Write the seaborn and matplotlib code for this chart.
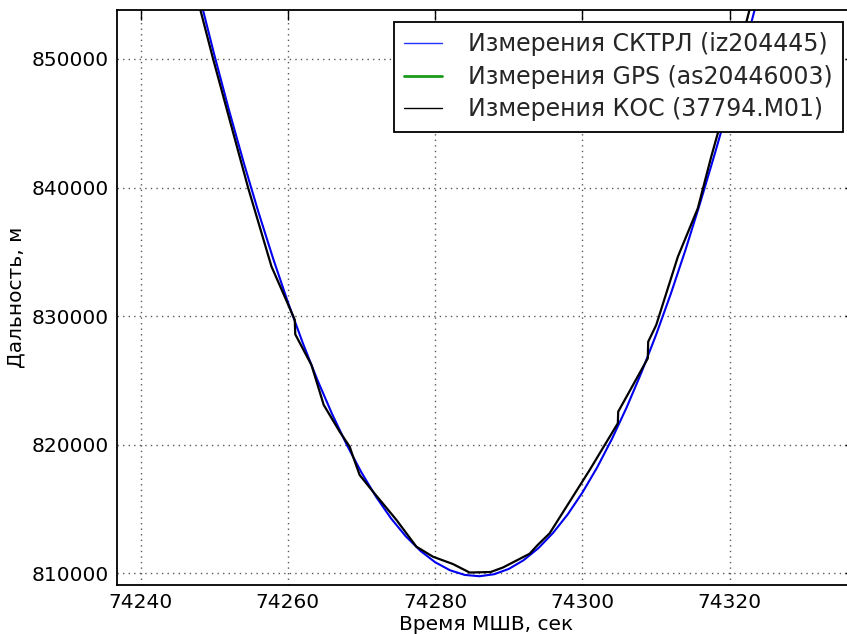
import matplotlib
matplotlib.use("Agg")
import matplotlib.pyplot as plt
from matplotlib.lines import Line2D
import seaborn as sns
import pandas as pd

# --- data ---
sktrl_time = [74248, 74250, 74252, 74254, 74256, 74258, 74260, 74262, 74264, 74266,
              74268, 74270, 74272, 74274, 74276, 74278, 74280, 74282, 74284, 74286,
              74288, 74290, 74292, 74294, 74296, 74298, 74300, 74302, 74304, 74306,
              74308, 74310, 74312, 74314, 74316, 74318, 74320, 74322, 74324]
sktrl_range = [854886, 850349, 846035, 841950, 838096, 834475, 831092, 827950, 825050, 822395,
               819988, 817832, 815927, 814276, 812881, 811743, 810861, 810239, 809875, 809771,
               809927, 810342, 811016, 811949, 813139, 814586, 816288, 818244, 820450, 822907,
               825610, 828559, 831751, 835180, 838848, 842700, 846700, 850800, 855200]

gps_time = []
gps_range = []

kos_time = [74246.9, 74249.85, 74254.60, 74257.78, 74259.35, 74260.71, 74260.94, 74261.00,
            74263.20, 74264.87, 74267.04, 74268.39, 74268.85, 74269.75, 74271.56, 74274.74,
            74277.45, 74279.70, 74282.41, 74284.67, 74287.53, 74289.20, 74292.82, 74293.91,
            74295.54, 74300.97, 74304.80, 74304.85, 74308.87, 74308.92, 74310.01, 74312.95,
            74315.66, 74317.48, 74318.37, 74322.67, 74323.9]
kos_range = [856500, 850000, 839990, 833850, 831800, 830010, 829700, 828590,
             826200, 823090, 821010, 819850, 819070, 817640, 816350, 814150,
             812070, 811290, 810720, 810060, 810100, 810450, 811520, 812200,
             813110, 818030, 821670, 822570, 826720, 828010, 829310, 834620,
             838390, 842400, 844220, 853810, 856500]

labels = ["Измерения СКТРЛ (iz204445)", "Измерения GPS (as20446003)", "Измерения КОС (37794.M01)"]
x_ticks = [74240, 74260, 74280, 74300, 74320]
y_ticks = [810000, 820000, 830000, 840000, 850000]

sns.set_theme(style="white")
plt.rcParams["font.family"] = ["DejaVu Sans"]

fig = plt.figure(figsize=(8.47, 6.34), dpi=100)
ax = fig.add_axes([117 / 847, 1 - 585 / 634, (855 - 117) / 847, (585 - 10) / 634])

df_sktrl = pd.DataFrame({"t": sktrl_time, "r": sktrl_range})
df_kos = pd.DataFrame({"t": kos_time, "r": kos_range})

sns.lineplot(data=df_sktrl, x="t", y="r", ax=ax, color="#0000ee", linewidth=1.5,
             sort=False, estimator=None, legend=False)
sns.lineplot(data=df_kos, x="t", y="r", ax=ax, color="black", linewidth=1.6,
             sort=False, estimator=None, legend=False)

ax.set_xlim(74236.8, 74337.0)
ax.set_ylim(809090, 853810)
ax.set_xticks(x_ticks)
ax.set_yticks(y_ticks)
ax.set_xticklabels([str(v) for v in x_ticks])
ax.set_yticklabels([str(v) for v in y_ticks])

ax.grid(True, color="0.35", linestyle=(0, (1, 3)), linewidth=1.0)
ax.tick_params(direction="in", length=7, width=1, top=True, right=True,
               labelsize=14.5, pad=6, colors="black")
for s in ax.spines.values():
    s.set_color("black")
    s.set_linewidth(1.3)

ax.set_xlabel("Время МШВ, сек", fontsize=14.5, labelpad=2, color="black")
ax.set_ylabel("Дальность, м", fontsize=14.5, labelpad=4, color="black")

handles = [Line2D([], [], color="#2233ff", linewidth=1.0),
           Line2D([], [], color="#1a9a1a", linewidth=2.0),
           Line2D([], [], color="black", linewidth=1.0)]
leg = ax.legend(handles, labels, loc="upper right", fontsize=17, labelspacing=0.36,
                handlelength=1.6, handletextpad=1.1, borderpad=0.45, borderaxespad=0.5,
                fancybox=False, edgecolor="black", framealpha=1)
leg.get_frame().set_linewidth(1.3)

fig.savefig("out.png", dpi=100)
